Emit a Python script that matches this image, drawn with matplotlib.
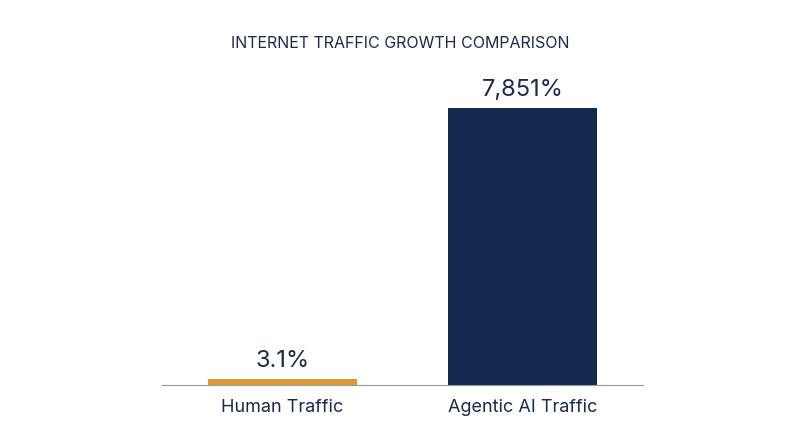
import matplotlib
matplotlib.use("Agg")
import matplotlib.pyplot as plt

categories = ["Human Traffic", "Agentic AI Traffic"]
values = [3.1, 7851]
labels = ["3.1%", "7,851%"]
colors = ["#D99B3A", "#132A4E"]
navy = "#1B2A4A"

plt.rcParams['font.family'] = ['Inter', 'DejaVu Sans']
fig = plt.figure(figsize=(8, 4.47), dpi=100)
ax = fig.add_axes([0.2025, 0.1387, 0.60125, 0.6197])
# small visual floor so the tiny bar remains visible, as in the reference
shown = [max(v, 0.022 * max(values)) for v in values]
x = list(range(len(categories)))
ax.bar(x, shown, width=0.62, color=colors)
ax.set_xlim(-0.5, 1.5)
ax.set_ylim(0, max(values))
for xi, s, lab in zip(x, shown, labels):
    ax.text(xi, s + max(values) * 0.025, lab, ha='center', va='bottom', fontsize=17, color=navy)
ax.set_xticks(x)
ax.set_xticklabels(categories, fontsize=13, color=navy)
ax.tick_params(axis='x', length=0, pad=10)
ax.set_yticks([])
for s in ['top', 'right', 'left']:
    ax.spines[s].set_visible(False)
ax.spines['bottom'].set_color('#999999')
ax.spines['bottom'].set_linewidth(0.8)
fig.text(0.5, 1 - 44 / 447, "INTERNET TRAFFIC GROWTH COMPARISON", ha='center', va='center',
         fontsize=11.5, color=navy)
fig.savefig("out.png", dpi=100, facecolor='white')
